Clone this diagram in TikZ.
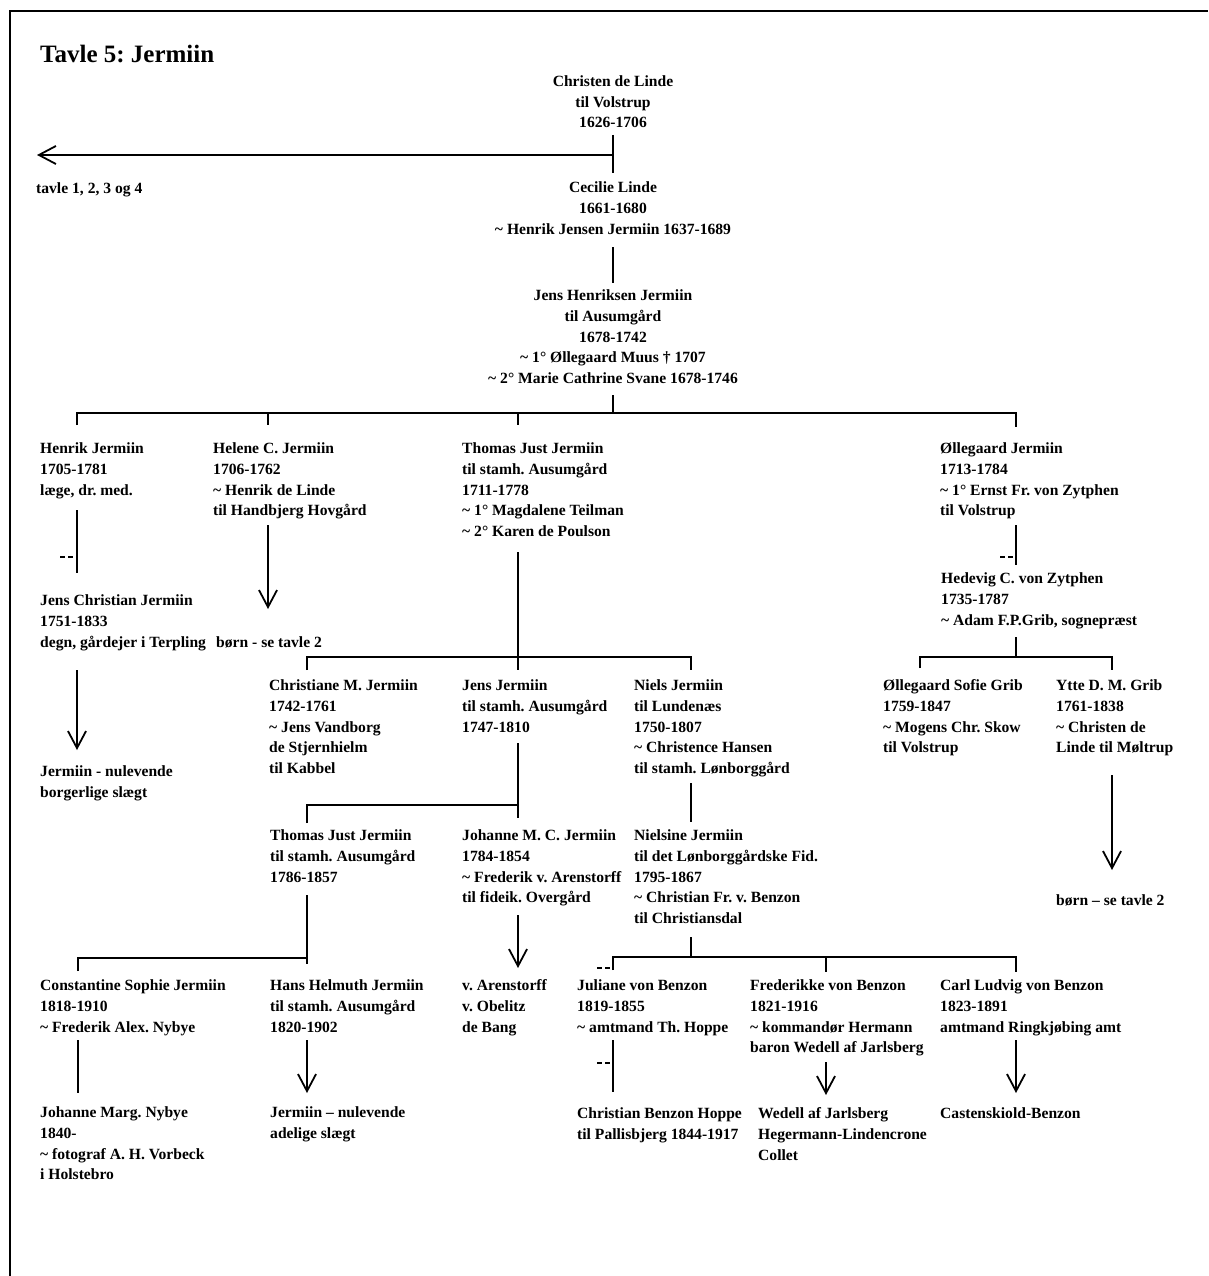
\documentclass[tikz,border=0pt]{standalone}
\usepackage{fontspec}
\setmainfont{Liberation Serif}
\usetikzlibrary{arrows.meta}
\frenchspacing
\newcommand\bodyfont{\fontsize{15.6}{20.9}\selectfont\bfseries}
\newcommand\tld{\textasciitilde\ }
\begin{document}
\begin{tikzpicture}[x=1pt,y=-1pt,
  pers/.style={anchor=north west, inner sep=0pt, yshift=14.63pt, align=left, font=\bodyfont},
  persc/.style={anchor=north, inner sep=0pt, yshift=14.63pt, align=center, font=\bodyfont},
  ln/.style={line width=1.8pt},
  arr/.style={line width=1.8pt, -{Straight Barb[length=17pt,width=18pt,line width=1.8pt]}},
  stub/.style={line width=1.6pt, dash pattern=on 5pt off 3pt}]
\useasboundingbox (0,0) rectangle (1208,1276);
\fill[white] (0,0) rectangle (1208,1276);
% frame
\coordinate (fbl) at (10,1276);
\coordinate (ftl) at (10,11);
\coordinate (ftr) at (1208,11);
\draw[line width=2pt] (fbl) -- (ftl) -- (ftr);

\node[anchor=base west, inner sep=0pt, font=\fontsize{25}{30}\selectfont\bfseries] (title) at (40,63) {Tavle 5: Jermiin};

% generation 0-2
\node[persc] (cdl) at (613,86) {\strut Christen de Linde\\til Volstrup\\1626-1706};
\node[persc] (cec) at (613,192) {\strut Cecilie Linde\\1661-1680\\\tld Henrik Jensen Jermiin 1637-1689};
\node[persc] (jhj) at (613,300) {\strut Jens Henriksen Jermiin\\til Ausumgård\\1678-1742\\\tld 1° Øllegaard Muus † 1707\\\tld 2° Marie Cathrine Svane 1678-1746};
\node[pers] (tavle) at (36,193) {\strut tavle 1, 2, 3 og 4};

% generation 3
\node[pers] (hen) at (40,453) {\strut Henrik Jermiin\\1705-1781\\læge, dr. med.};
\node[pers] (hel) at (213,453) {\strut Helene C. Jermiin\\1706-1762\\\tld Henrik de Linde\\til Handbjerg Hovgård};
\node[pers] (tjj) at (462,453) {\strut Thomas Just Jermiin\\til stamh. Ausumgård\\1711-1778\\\tld 1° Magdalene Teilman\\\tld 2° Karen de Poulson};
\node[pers] (oll) at (940,453) {\strut Øllegaard Jermiin\\1713-1784\\\tld 1° Ernst Fr. von Zytphen\\til Volstrup};

\node[pers] (jcj) at (40,605) {\strut Jens Christian Jermiin\\1751-1833\\degn, gårdejer i Terpling};
\node[pers] (born1) at (216,647) {\strut børn - se tavle 2};
\node[pers] (jnb) at (40,776) {\strut Jermiin - nulevende\\borgerlige slægt};
\node[pers] (hcz) at (941,583) {\strut Hedevig C. von Zytphen\\1735-1787\\\tld Adam F.P.Grib, sognepræst};

% generation 4
\node[pers] (cmj) at (269,690) {\strut Christiane M. Jermiin\\1742-1761\\\tld Jens Vandborg\\de Stjernhielm\\til Kabbel};
\node[pers] (jj) at (462,690) {\strut Jens Jermiin\\til stamh. Ausumgård\\1747-1810};
\node[pers] (nj) at (634,690) {\strut Niels Jermiin\\til Lundenæs\\1750-1807\\\tld Christence Hansen\\til stamh. Lønborggård};
\node[pers] (osg) at (883,690) {\strut Øllegaard Sofie Grib\\1759-1847\\\tld Mogens Chr. Skow\\til Volstrup};
\node[pers] (ydg) at (1056,690) {\strut Ytte D. M. Grib\\1761-1838\\\tld Christen de\\Linde til Møltrup};
\node[pers] (born2) at (1056,905) {\strut børn – se tavle 2};

% generation 5
\node[pers] (tjj2) at (270,840) {\strut Thomas Just Jermiin\\til stamh. Ausumgård\\1786-1857};
\node[pers] (jmc) at (462,840) {\strut Johanne M. C. Jermiin\\1784-1854\\\tld Frederik v. Arenstorff\\til fideik. Overgård};
\node[pers] (nsj) at (634,840) {\strut Nielsine Jermiin\\til det Lønborggårdske Fid.\\1795-1867\\\tld Christian Fr. v. Benzon\\til Christiansdal};

% generation 6
\node[pers] (csj) at (40,990) {\strut Constantine Sophie Jermiin\\1818-1910\\\tld Frederik Alex. Nybye};
\node[pers] (hhj) at (270,990) {\strut Hans Helmuth Jermiin\\til stamh. Ausumgård\\1820-1902};
\node[pers] (arn) at (462,990) {\strut v. Arenstorff\\v. Obelitz\\de Bang};
\node[pers] (jvb) at (577,990) {\strut Juliane von Benzon\\1819-1855\\\tld amtmand Th. Hoppe};
\node[pers] (fvb) at (750,990) {\strut Frederikke von Benzon\\1821-1916\\\tld kommandør Hermann\\baron Wedell af Jarlsberg};
\node[pers] (cvb) at (940,990) {\strut Carl Ludvig von Benzon\\1823-1891\\amtmand Ringkjøbing amt};

% generation 7
\node[pers] (jmn) at (40,1117) {\strut Johanne Marg. Nybye\\1840-\\\tld fotograf A. H. Vorbeck\\i Holstebro};
\node[pers] (jna) at (270,1117) {\strut Jermiin – nulevende\\adelige slægt};
\node[pers] (cbh) at (577,1118) {\strut Christian Benzon Hoppe\\til Pallisbjerg 1844-1917};
\node[pers] (wed) at (758,1118) {\strut Wedell af Jarlsberg\\Hegermann-Lindencrone\\Collet};
\node[pers] (cas) at (940,1118) {\strut Castenskiold-Benzon};

% ---------- connectors ----------
% Christen -> Cecilie, arrow to tavle 1-4
\coordinate (a1) at (613,135); \coordinate (a2) at (613,173);
\coordinate (a3) at (613,155); \coordinate (a4) at (37,155);
\draw[ln] (a1) -- (a2);
\draw[arr] (a3) -- (a4);
% Cecilie -> Jens Henriksen
\coordinate (b1) at (613,247); \coordinate (b2) at (613,283);
\draw[ln] (b1) -- (b2);
% Jens Henriksen -> children
\coordinate (c0) at (613,395); \coordinate (c1) at (613,413);
\coordinate (cl) at (77,413); \coordinate (cr) at (1016,413);
\coordinate (cld) at (77,425); \coordinate (crd) at (1016,427);
\coordinate (c2) at (268,413); \coordinate (c2d) at (268,425);
\coordinate (c3) at (518,413); \coordinate (c3d) at (518,425);
\draw[ln] (c0) -- (c1);
\draw[ln] (cld) -- (cl) -- (cr) -- (crd);
\draw[ln] (c2) -- (c2d);
\draw[ln] (c3) -- (c3d);
% Henrik -> Jens Christian
\coordinate (d1) at (77,510); \coordinate (d2) at (77,573);
\coordinate (d3) at (60,557); \coordinate (d4) at (77,557);
\draw[ln] (d1) -- (d2);
\draw[stub] (d3) -- (d4);
% Helene -> born
\coordinate (e1) at (268,525); \coordinate (e2) at (268,609);
\draw[arr] (e1) -- (e2);
% Jens Christian -> nulevende
\coordinate (f1) at (77,670); \coordinate (f2) at (77,750);
\draw[arr] (f1) -- (f2);
% Thomas Just -> children
\coordinate (g1) at (518,552); \coordinate (g2) at (518,657);
\coordinate (gl) at (307,657); \coordinate (gr) at (691,657);
\coordinate (gld) at (307,670); \coordinate (grd) at (691,670); \coordinate (gmd) at (518,670);
\draw[ln] (g1) -- (g2);
\draw[ln] (gld) -- (gl) -- (gr) -- (grd);
\draw[ln] (g2) -- (gmd);
% Jens Jermiin -> children
\coordinate (h1) at (518,743); \coordinate (h2) at (518,818);
\coordinate (hb) at (518,805); \coordinate (hl) at (307,805); \coordinate (hld) at (307,823);
\draw[ln] (h1) -- (h2);
\draw[ln] (hld) -- (hl) -- (hb);
% Niels -> Nielsine
\coordinate (i1) at (691,783); \coordinate (i2) at (691,822);
\draw[ln] (i1) -- (i2);
% Thomas Just 2 -> children
\coordinate (k1) at (307,895); \coordinate (k2) at (307,964);
\coordinate (kb) at (307,958); \coordinate (kl) at (78,958); \coordinate (kld) at (78,971);
\draw[ln] (k1) -- (k2);
\draw[ln] (kld) -- (kl) -- (kb);
% Johanne M.C. -> Arenstorff
\coordinate (l1) at (518,915); \coordinate (l2) at (518,968);
\draw[arr] (l1) -- (l2);
% Nielsine -> children
\coordinate (m1) at (691,937); \coordinate (m2) at (691,957);
\coordinate (ml) at (613,957); \coordinate (mr) at (1016,957);
\coordinate (mld) at (613,970); \coordinate (mrd) at (1016,972);
\coordinate (mm) at (826,957); \coordinate (mmd) at (826,972);
\coordinate (ms1) at (597,968); \coordinate (ms2) at (612,968);
\draw[ln] (m1) -- (m2);
\draw[ln] (mld) -- (ml) -- (mr) -- (mrd);
\draw[ln] (mm) -- (mmd);
\draw[stub] (ms1) -- (ms2);
% Øllegaard -> Hedevig
\coordinate (n1) at (1016,525); \coordinate (n2) at (1016,565);
\coordinate (ns1) at (1000,557); \coordinate (ns2) at (1016,557);
\draw[ln] (n1) -- (n2);
\draw[stub] (ns1) -- (ns2);
% Hedevig -> children
\coordinate (o1) at (1016,637); \coordinate (o2) at (1016,657);
\coordinate (ol) at (920,657); \coordinate (or) at (1112,657);
\coordinate (old) at (920,668); \coordinate (ord) at (1112,670);
\draw[ln] (o1) -- (o2);
\draw[ln] (old) -- (ol) -- (or) -- (ord);
% Ytte -> born
\coordinate (p1) at (1112,775); \coordinate (p2) at (1112,870);
\draw[arr] (p1) -- (p2);
% Constantine -> Johanne Marg.
\coordinate (q1) at (78,1040); \coordinate (q2) at (78,1093);
\draw[ln] (q1) -- (q2);
% Hans Helmuth -> nulevende
\coordinate (r1) at (307,1040); \coordinate (r2) at (307,1093);
\draw[arr] (r1) -- (r2);
% Juliane -> Christian Benzon Hoppe
\coordinate (s1) at (613,1040); \coordinate (s2) at (613,1092);
\coordinate (ss1) at (597,1063); \coordinate (ss2) at (612,1063);
\draw[ln] (s1) -- (s2);
\draw[stub] (ss1) -- (ss2);
% Frederikke -> Wedell
\coordinate (t1) at (826,1062); \coordinate (t2) at (826,1095);
\draw[arr] (t1) -- (t2);
% Carl Ludvig -> Castenskiold
\coordinate (u1) at (1016,1040); \coordinate (u2) at (1016,1093);
\draw[arr] (u1) -- (u2);
\end{tikzpicture}
\end{document}
